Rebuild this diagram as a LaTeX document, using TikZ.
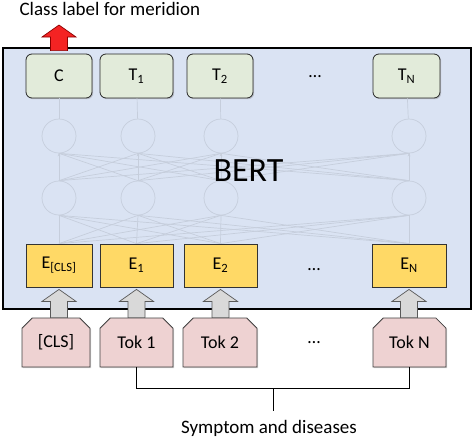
\documentclass[tikz,border=0pt]{standalone}
\usepackage{fontspec}
\setmainfont{Carlito}
\usetikzlibrary{arrows.meta, positioning, shapes.misc, shadows, calc}
\definecolor{bertblue}{HTML}{DAE3F3}
\definecolor{outgreen}{HTML}{E2EBDA}
\definecolor{embyellow}{HTML}{FFD966}
\definecolor{tokpink}{HTML}{EED2D2}
\definecolor{netgray}{HTML}{C6CEDC}
\definecolor{arrowgray}{HTML}{D9D9D9}
\definecolor{arrowred}{HTML}{F42323}
\tikzset{x=1pt, y=-1pt,
    font=\fontsize{18}{20}\selectfont,
    bertbox/.style={draw=black, line width=2.6pt, fill=bertblue},
    outbox/.style={draw=black!85, rounded corners=6pt, fill=outgreen, line width=0.8pt,
        minimum height=44, drop shadow={shadow xshift=1.2pt, shadow yshift=-1.2pt, opacity=0.35}},
    embbox/.style={draw=black!80, fill=embyellow, line width=0.8pt,
        minimum height=43, drop shadow={shadow xshift=1.2pt, shadow yshift=-1.2pt, opacity=0.35}},
    tokbox/.style={chamfered rectangle, chamfered rectangle corners={north west, north east},
        chamfered rectangle xsep=7pt, draw=black!75, fill=tokpink, line width=0.8pt,
        minimum height=49, drop shadow={shadow xshift=1.2pt, shadow yshift=-1.2pt, opacity=0.35}},
    neuron/.style={circle, draw=netgray, line width=0.7pt, minimum size=34},
    netline/.style={draw=netgray, line width=0.7pt},
    grayarrow/.style={draw=black!65, fill=arrowgray, line width=0.7pt},
    redarrow/.style={draw=red!55!black, fill=arrowred, line width=0.7pt},
    textnode/.style={}}
% block arrow from #2 (shaft end) up to #3 (tip)
\newcommand{\blockarrow}[3][grayarrow]{%
    \draw[#1] let \p1=(#2), \p2=(#3) in
    (\x2,\y2) -- (\x2+17pt,\y2-12pt) -- (\x2+8.5pt,\y2-12pt) -- (\x2+8.5pt,\y1)
    -- (\x2-8.5pt,\y1) -- (\x2-8.5pt,\y2-12pt) -- (\x2-17pt,\y2-12pt) -- cycle;}

\begin{document}
\begin{tikzpicture}
\useasboundingbox (0,0) rectangle (475,440);
\node[bertbox, minimum width=468, minimum height=261] (bert) at (237,178.5) {};

% hidden layers
\node[neuron] (u1) at (59,136) {};
\node[neuron] (u2) at (138,136) {};
\node[neuron] (u3) at (221,136) {};
\node[neuron] (u4) at (409,136) {};
\node[neuron] (l1) at (59,198) {};
\node[neuron] (l2) at (138,198) {};
\node[neuron] (l3) at (221,198) {};
\node[neuron] (l4) at (409,198) {};

% outputs
\node[outbox, minimum width=66] (c)  at (59,76)    {C};
\node[outbox, minimum width=73] (t1) at (136.5,76) {T\textsubscript{1}};
\node[outbox, minimum width=66] (t2) at (220,76)   {T\textsubscript{2}};
\node[textnode] (tdots) at (315,77) {\dots};
\node[outbox, minimum width=67] (tn) at (406.5,76) {T\textsubscript{N}};

% embeddings
\node[embbox, minimum width=66] (ecls) at (59,265.5)    {E\textsubscript{[CLS]}};
\node[embbox, minimum width=73] (e1)   at (136.5,265.5) {E\textsubscript{1}};
\node[embbox, minimum width=73] (e2)   at (220.5,265.5) {E\textsubscript{2}};
\node[textnode] (edots) at (314,270) {\dots};
\node[embbox, minimum width=74] (en)   at (409,265.5)   {E\textsubscript{N}};

% tokens
\node[tokbox, minimum width=68] (tokcls) at (56,342.5)    {[CLS]};
\node[tokbox, minimum width=73] (tok1)   at (136.5,342.5) {Tok 1};
\node[tokbox, minimum width=74] (tok2)   at (220,342.5)   {Tok 2};
\node[textnode] (tokdots) at (314,343) {\dots};
\node[tokbox, minimum width=73] (tokn)   at (409.5,342.5) {Tok N};

% connections inside the encoder
\path[netline]
    (c)  edge (u1)
    (t1) edge (u2)
    (t2) edge (u3)
    (tn) edge (u4);
\foreach \i in {1,...,4}
  \foreach \j in {1,...,4}
    \draw[netline] (l\i.north) -- (u\j.south);
\foreach \e in {ecls,e1,e2,en}
  \foreach \j in {1,...,4}
    \draw[netline] (\e.north) -- (l\j.south);
\foreach \i in {1,...,4}
  \draw[netline, -{Stealth[length=3pt,width=3pt]}] (l\i.north) -- (u\i.south);
\node[textnode, font=\fontsize{34}{36}\selectfont] (bertlabel) at (248.5,171) {BERT};

% input arrows
\blockarrow{tokcls.north}{[yshift=-2pt]ecls.south}
\blockarrow{tok1.north}{[yshift=-2pt]e1.south}
\blockarrow{tok2.north}{[yshift=-2pt]e2.south}
\blockarrow{tokn.north}{[yshift=-2pt]en.south}

% class output
\coordinate (cup) at (59,25);
\blockarrow[redarrow]{[yshift=3pt]c.north}{cup}
\node[textnode, anchor=base west, font=\fontsize{19}{21}\selectfont] (cls) at (16,15.5) {Class label for meridion};

% input sentence
\node[textnode, anchor=base, font=\fontsize{19}{21}\selectfont] (sym) at (269,433) {Symptom and diseases};
\draw[line width=0.8pt] (tok1.south) -- ++(0,21) -| coordinate[pos=0.25] (bmid) (tokn.south);
\draw[line width=0.8pt, shorten >=5pt] (bmid) -- (bmid |- sym.north);
\end{tikzpicture}
\end{document}
